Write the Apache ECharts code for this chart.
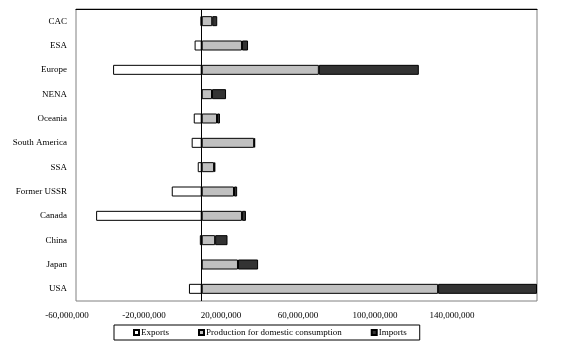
<!DOCTYPE html>
<html>
<head>
<meta charset="utf-8">
<script src="https://cdn.jsdelivr.net/npm/echarts@6/dist/echarts.min.js"></script>
<style>
html,body{margin:0;padding:0;background:#fff}
#Chart{width:571px;height:351px}
</style>
</head>
<body>
<div id="Chart"></div>
<script>
// data
var regions=['CAC','ESA','Europe','NENA','Oceania','South America','SSA','Former USSR','Canada','China','Japan','USA']
var exportsData=[-600000,-3400000,-42300000,0,-3800000,-4800000,-1900000,-14300000,-50400000,-900000,0,-6100000]
var productionData=[5000000,19200000,55900000,4900000,7300000,25000000,5900000,15400000,19200000,6400000,17300000,112800000]
var importsData=[2400000,2900000,47700000,6700000,1400000,500000,600000,1500000,1900000,5900000,9600000,47200000]
var tickValues=[-60000000,-20000000,20000000,60000000,100000000,140000000]

var font='"Liberation Serif","Times New Roman",serif'

function fmt(v){
    return Number(v).toLocaleString('en-US')
}

function drawChar(){
    var myChart=echarts.init(document.getElementById('Chart'))
    var option={
        animation:false,
        textStyle:{fontFamily:font},
        legend:{
            left:114,
            top:325,
            padding:[3,13,3,19],
            itemGap:29,
            itemWidth:5,
            itemHeight:5,
            borderColor:'#000',
            borderWidth:1,
            borderRadius:0,
            icon:'rect',
            textStyle:{fontFamily:font,fontSize:9,color:'#000',padding:[0,0,0,-3]},
            data:['Exports','Production for domestic consumption','Imports']
        },
        grid:[
            {left:76,right:34,top:9,bottom:50,show:true,borderColor:'#808080',borderWidth:1,backgroundColor:'#fff'},
            // label row of the x axis (labels sit a bit off the ticks in the original)
            {left:67,width:385,top:9,bottom:50,show:false}
        ],
        xAxis:[
            {
                type:'value',gridIndex:0,position:'top',
                min:-60000000,max:160000000,interval:40000000,
                axisLine:{show:true,lineStyle:{color:'#000',width:1}},
                axisTick:{show:false},axisLabel:{show:false},splitLine:{show:false}
            },
            {
                type:'value',gridIndex:1,position:'bottom',
                min:-60000000,max:140000000,interval:40000000,
                axisLine:{show:false},axisTick:{show:false},splitLine:{show:false},
                axisLabel:{
                    customValues:tickValues,
                    margin:10,fontSize:9,fontFamily:font,color:'#000',
                    formatter:fmt
                }
            }
        ],
        yAxis:[
            {
                type:'category',gridIndex:0,inverse:true,data:regions,
                axisLine:{show:false},axisTick:{show:false},splitLine:{show:false},
                axisLabel:{margin:9,fontSize:9,fontFamily:font,color:'#000'}
            },
            {type:'value',gridIndex:1,show:false}
        ],
        series:[
            {
                name:'Exports',type:'bar',stack:'t',barWidth:10,data:exportsData,
                itemStyle:{color:'#fff',borderColor:'#000',borderWidth:1},
                markLine:{
                    silent:true,symbol:'none',label:{show:false},
                    lineStyle:{color:'#000',width:1,type:'solid'},
                    data:[{xAxis:0}]
                }
            },
            {
                name:'Production for domestic consumption',type:'bar',stack:'t',barWidth:10,data:productionData,
                itemStyle:{color:'#c0c0c0',borderColor:'#000',borderWidth:1}
            },
            {
                name:'Imports',type:'bar',stack:'t',barWidth:10,data:importsData,
                itemStyle:{color:'#333333',borderColor:'#000',borderWidth:1}
            }
        ]
    }
    myChart.setOption(option)
}

drawChar()
</script>
</body>
</html>
